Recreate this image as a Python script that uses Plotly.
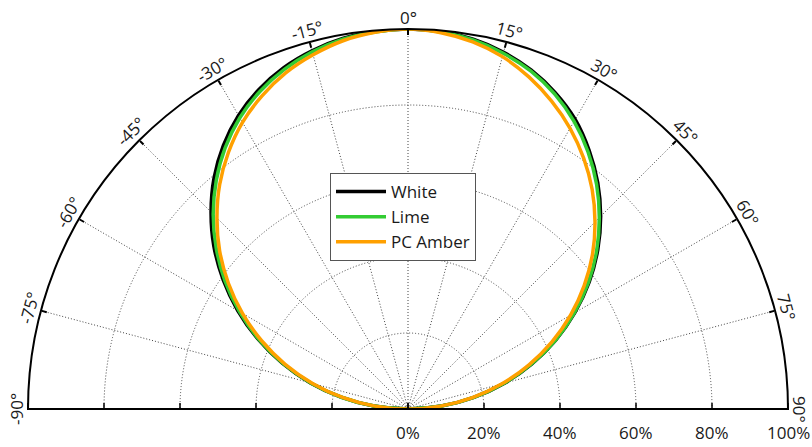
import numpy as np
import plotly.graph_objects as go

# Relative luminous intensity (%) vs. emission angle (deg)
angles = [-90, -85, -80, -75, -70, -65, -60, -55, -50, -45, -40, -35, -30, -25, -20, -15, -10, -5,
          0, 5, 10, 15, 20, 25, 30, 35, 40, 45, 50, 55, 60, 65, 70, 75, 80, 85, 90]

white = [0, 9.0, 17.9, 26.7, 35.2, 43.6, 51.7, 59.4, 66.7, 73.3, 79.4, 84.7, 89.2, 92.8, 95.6, 97.6, 99.0, 99.7,
         100, 99.7, 98.8, 97.2, 94.9, 91.8, 88.0, 83.1, 77.7, 71.7, 65.2, 58.2, 50.7, 42.9, 34.7, 26.3, 17.6, 8.8, 0]

lime = [0, 8.9, 17.8, 26.5, 35.0, 43.3, 51.2, 58.8, 65.9, 72.5, 78.5, 83.9, 88.5, 92.2, 95.1, 97.3, 98.8, 99.6,
        100, 99.6, 98.6, 96.9, 94.6, 91.4, 87.4, 82.6, 77.2, 71.2, 64.8, 57.9, 50.5, 42.8, 34.6, 26.2, 17.6, 8.8, 0]

pc_amber = [0, 8.7, 17.5, 26.0, 34.4, 42.5, 50.3, 57.7, 64.7, 71.1, 77.1, 82.4, 87.1, 90.9, 94.1, 96.5, 98.4, 99.5,
            100, 99.4, 98.1, 96.0, 93.0, 89.4, 85.3, 80.6, 75.4, 69.6, 63.4, 56.6, 49.4, 41.8, 33.8, 25.6, 17.2, 8.6, 0]

series = [("White", white, "#000000"), ("Lime", lime, "#33cc33"), ("PC Amber", pc_amber, "#ffa000")]

angle_ticks = list(range(-90, 91, 15))
angle_labels = [f"{a}\u00b0" for a in angle_ticks]
radial_ticks = [0, 20, 40, 60, 80, 100]
radial_labels = [f"{v}%" for v in radial_ticks]

W, H = 812, 447
CX, CY, R = 408, 409, 380      # pixel centre and radius of the half disk
LABEL_R = 392                  # radius at which angle labels sit
RADIAL_LABEL_DY = 23           # radial labels sit this far below the baseline
TICK_LEN = 6
FONT = "Open Sans"
FS = 17
TXT = "#1a1a1a"
GRID = dict(showgrid=True, gridcolor="#444444", gridwidth=1, griddash="1px,2px")

fig = go.Figure()
for name, vals, color in series:
    fig.add_trace(go.Scatterpolar(
        r=vals, theta=angles, mode="lines", name=name,
        line=dict(color=color, width=3.5, shape="spline"),
    ))

fig.update_layout(
    width=W, height=H,
    margin=dict(l=0, r=0, t=0, b=0),
    paper_bgcolor="white",
    font=dict(family=FONT, size=FS, color=TXT),
    polar=dict(
        domain=dict(x=[(CX - R) / W, (CX + R) / W], y=[(H - CY) / H, (H - CY + R) / H]),
        sector=[0, 180],
        bgcolor="white",
        angularaxis=dict(
            rotation=90, direction="clockwise",
            tickmode="array", tickvals=angle_ticks,
            showticklabels=False,
            ticks="inside", ticklen=5, tickwidth=1.5, tickcolor="black",
            showline=True, linecolor="black", linewidth=2,
            **GRID,
        ),
        radialaxis=dict(
            range=[0, 100], angle=0,
            tickmode="array", tickvals=radial_ticks,
            showticklabels=False, ticks="",
            showline=True, linecolor="black", linewidth=2,
            **GRID,
        ),
    ),
    legend=dict(
        x=330 / W, y=1 - 173 / H, xanchor="left", yanchor="top",
        bgcolor="white", bordercolor="#555555", borderwidth=1,
        font=dict(family=FONT, size=FS, color=TXT),
        itemwidth=50,
    ),
    showlegend=True,
)

def to_paper(px, py):
    return px / W, 1 - py / H

# left half of the baseline (the radial axis line covers the right half)
x0, y0 = to_paper(CX - R, CY)
x1, y1 = to_paper(CX, CY)
fig.add_shape(type="line", xref="paper", yref="paper", x0=x0, y0=y0, x1=x1, y1=y1,
              line=dict(color="black", width=2))

# upward tick marks on both halves of the baseline
for v in radial_ticks:
    for sgn in (-1, 1):
        px = CX + sgn * R * v / 100
        xa, ya = to_paper(px, CY)
        xb, yb = to_paper(px, CY - TICK_LEN)
        fig.add_shape(type="line", xref="paper", yref="paper", x0=xa, y0=ya, x1=xb, y1=yb,
                      line=dict(color="black", width=1.5))

# tangential angle labels outside the arc
for a, txt in zip(angle_ticks, angle_labels):
    t = np.deg2rad(a)
    xp, yp = to_paper(CX + LABEL_R * np.sin(t), CY - LABEL_R * np.cos(t))
    fig.add_annotation(
        x=xp, y=yp, xref="paper", yref="paper",
        text=txt, showarrow=False, textangle=a,
        xanchor="center", yanchor="middle",
        font=dict(family=FONT, size=FS, color=TXT),
    )

# percentage labels under the right half of the baseline
for v, txt in zip(radial_ticks, radial_labels):
    xp, yp = to_paper(CX + R * v / 100, CY + RADIAL_LABEL_DY)
    fig.add_annotation(
        x=xp, y=yp, xref="paper", yref="paper",
        text=txt, showarrow=False,
        xanchor="center", yanchor="middle",
        font=dict(family=FONT, size=FS, color=TXT),
    )

fig.write_html("out.html")
